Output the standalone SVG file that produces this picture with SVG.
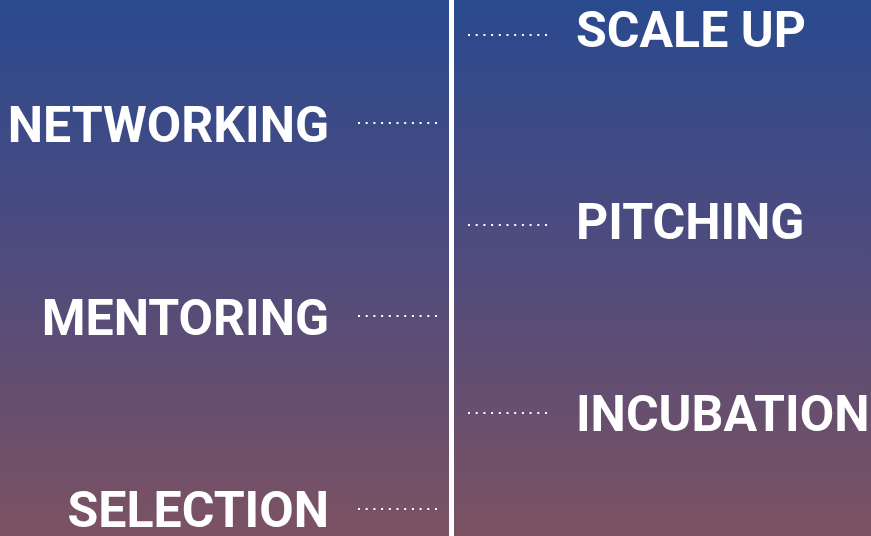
<svg xmlns="http://www.w3.org/2000/svg" width="871" height="536" viewBox="0 0 871 536">
<defs>
<linearGradient id="bg" x1="0" y1="0" x2="0" y2="1">
<stop offset="0" stop-color="#2a4a8f"/>
<stop offset="0.5" stop-color="#504b7c"/>
<stop offset="1" stop-color="#7c5262"/>
</linearGradient>
<style>
.lbl{font-family:Roboto,"Liberation Sans",sans-serif;font-weight:700;font-size:50px;fill:#ffffff}
.l{text-anchor:end}
.dot{stroke:#ffffff;stroke-width:2;stroke-dasharray:2 5.7;fill:none}
</style>
</defs>
<rect width="871" height="536" fill="url(#bg)"/>
<rect x="449" y="0" width="5" height="536" fill="#ffffff"/>
<g id="connectors">
<line class="dot" x1="468" y1="35" x2="548" y2="35"/>
<line class="dot" x1="358" y1="123" x2="438" y2="123"/>
<line class="dot" x1="468" y1="225" x2="548" y2="225"/>
<line class="dot" x1="358" y1="316" x2="438" y2="316"/>
<line class="dot" x1="468" y1="413" x2="548" y2="413"/>
<line class="dot" x1="358" y1="509" x2="438" y2="509"/>
</g>
<g id="scale-up"><text class="lbl" x="576" y="47">SCALE UP</text></g>
<g id="networking"><text class="lbl l" x="329" y="142">NETWORKING</text></g>
<g id="pitching"><text class="lbl" x="576" y="239">PITCHING</text></g>
<g id="mentoring"><text class="lbl l" x="329" y="335">MENTORING</text></g>
<g id="incubation"><text class="lbl" x="576" y="431">INCUBATION</text></g>
<g id="selection"><text class="lbl l" x="329" y="527">SELECTION</text></g>
</svg>
